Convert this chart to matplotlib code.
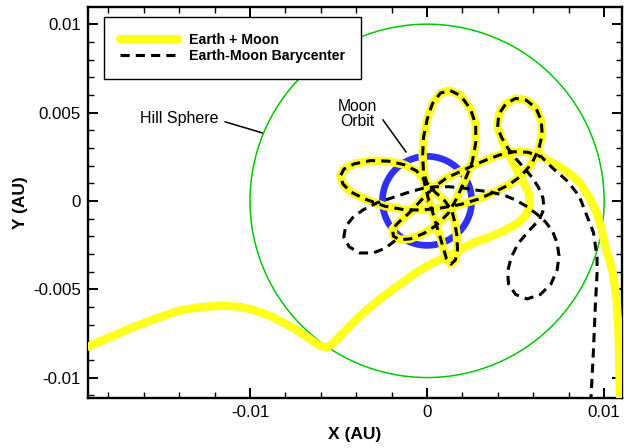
import matplotlib.pyplot as plt
from matplotlib.patches import Circle
from matplotlib.ticker import MultipleLocator

plt.rcParams["font.family"] = ["Liberation Sans", "DejaVu Sans"]
plt.rcParams["axes.unicode_minus"] = False

# Trajectory points are stored in milli-AU.
MAU = 1e-3

HILL_RADIUS = 0.010
MOON_ORBIT_RADIUS = 0.00252

# Earth + Moon track before it joins the shared loops
inbound_x = [-19.15, -18.0, -16.6, -15.2, -13.95, -12.7, -11.5, -10.6, -9.8, -8.9,
             -8.1, -7.4, -6.8, -6.15, -5.65, -5.3, -4.7, -4.18, -3.4, -2.5,
             -1.7, -0.95, -0.2, 0.35, 1.15, 1.9, 2.6, 3.4, 4.1, 4.7,
             5.15, 5.55, 5.82, 5.75, 5.38, 4.97, 4.58, 4.25]
inbound_y = [-8.25, -7.75, -7.15, -6.62, -6.2, -6.0, -5.93, -6.0, -6.17, -6.5,
             -6.9, -7.3, -7.7, -8.15, -8.3, -8.05, -7.45, -6.9, -6.17, -5.43,
             -4.85, -4.3, -3.8, -3.5, -3.15, -2.75, -2.38, -2.1, -1.8, -1.5,
             -1.25, -0.85, -0.32, 0.43, 1.19, 1.94, 2.7, 3.4]

# loops common to both solutions
loops_x = [3.98, 4.05, 4.45, 5.0, 5.6, 6.15, 6.45, 6.5, 6.3, 5.9, 5.3, 4.6,
           3.8, 2.9, 1.9, 0.8, -0.3, -1.3, -2.4, -3.5, -4.3, -4.75,
           -4.9, -4.7, -4.1, -3.2, -2.2, -1.3, -0.6, -0.2, -0.1,
           0.05, 0.3, 0.6, 0.9, 1.1, 1.35, 1.6, 1.72, 1.68, 1.55, 1.4,
           1.0, 0.45, 0.0, -0.2, -0.25, -0.2, 0.0, 0.3, 0.75, 1.3, 1.9, 2.45,
           2.75, 2.75, 2.55, 2.15, 1.65, 1.2,
           0.5, -0.2, -0.95, -1.55, -1.9, -1.95, -1.6, -1.05, -0.55, -0.05,
           0.5, 1.1, 1.75,
           2.6, 3.3, 4.1, 4.9, 5.7]
loops_y = [4.15, 4.9, 5.5, 5.8, 5.7, 5.25, 4.55, 3.75, 2.9, 2.1, 1.4, 0.9,
           0.5, 0.1, -0.2, -0.4, -0.52, -0.5, -0.3, 0.1, 0.5, 0.95,
           1.4, 1.8, 2.1, 2.28, 2.25, 2.05, 1.7, 1.25, 0.8,
           0.2, -0.6, -1.6, -2.6, -3.3, -3.58, -3.35, -2.75, -1.95, -1.15, -0.55,
           0.0, 0.5, 1.0, 1.6, 2.6, 3.6, 4.6, 5.5, 6.1, 6.25, 5.95, 5.2,
           4.3, 3.3, 2.2, 1.2, 0.1, -0.7,
           -1.4, -1.85, -2.15, -2.2, -2.0, -1.6, -1.2, -0.72, -0.2, 0.35,
           0.85, 1.3, 1.6,
           2.0, 2.3, 2.6, 2.78, 2.75]

# Earth + Moon departure
exit_x = [6.45, 7.5, 8.1, 8.65, 9.15, 9.6, 9.85, 10.05, 10.3, 10.5, 10.7, 10.8, 10.85, 10.9]
exit_y = [2.5, 1.92, 1.5, 1.0, 0.2, -0.7, -1.6, -2.5, -3.4, -4.1, -5.5, -7.2, -9.0, -11.3]

# barycenter track before the shared loops
bary_lead_x = [-1.8, -2.4, -3.05, -3.8, -4.4, -4.7, -4.6, -4.2, -3.6, -2.8,
               -1.9, -1.0, -0.2, 0.5, 1.2, 1.9, 2.7, 3.6, 4.4, 5.0,
               5.6, 6.2, 6.7, 7.1, 7.35, 7.45, 7.35, 7.0, 6.4, 5.65,
               5.0, 4.6, 4.55, 4.75, 5.15, 5.75, 6.35, 6.6, 6.55, 6.3,
               5.95, 5.5, 5.0, 4.55, 4.2]
bary_lead_y = [-2.25, -2.7, -2.95, -2.95, -2.6, -2.05, -1.45, -0.95, -0.5, -0.1,
               0.2, 0.5, 0.72, 0.8, 0.8, 0.75, 0.62, 0.5, 0.3, 0.05,
               -0.3, -0.75, -1.2, -1.75, -2.4, -3.1, -3.9, -4.7, -5.3, -5.55,
               -5.3, -4.7, -4.0, -3.2, -2.4, -1.7, -1.05, -0.45, 0.15, 0.75,
               1.3, 1.85, 2.4, 3.0, 3.6]

# barycenter departure
bary_exit_x = [6.45, 7.1, 7.95, 8.6, 9.05, 9.4, 9.6, 9.6, 9.5, 9.4, 9.27, 9.25]
bary_exit_y = [2.5, 1.85, 1.1, 0.25, -0.9, -1.8, -3.2, -4.1, -6.0, -8.4, -10.9, -11.3]

earth_moon_x = [v * MAU for v in inbound_x + loops_x + exit_x]
earth_moon_y = [v * MAU for v in inbound_y + loops_y + exit_y]
bary_x = [v * MAU for v in bary_lead_x + loops_x + bary_exit_x]
bary_y = [v * MAU for v in bary_lead_y + loops_y + bary_exit_y]

fig = plt.figure(figsize=(6.24, 4.48), dpi=100)
ax = fig.add_axes([0.141, 0.1123, 0.8561, 0.8728])

ax.add_patch(Circle((0, 0), HILL_RADIUS, fill=False, ec="#00c800", lw=1.1, zorder=1))
ax.add_patch(Circle((0, 0), MOON_ORBIT_RADIUS, fill=False, ec="#3030f0", lw=4.8, zorder=2))

ax.plot(earth_moon_x, earth_moon_y, color="#ffff1e", lw=6.0, solid_capstyle="round",
        solid_joinstyle="round", zorder=3, label="Earth + Moon")
ax.plot(bary_x, bary_y, color="black", lw=2.2, ls=(0, (3.0, 2.0)), zorder=4,
        label="Earth-Moon Barycenter")
ax.plot([0], [0], "o", color="red", ms=1.6, mec="none", zorder=5)

# labels with leader lines
ax.text(-14.0 * MAU, 4.64 * MAU, "Hill Sphere", fontsize=11.5, ha="center", va="center")
ax.plot([-11.4 * MAU, -9.32 * MAU], [4.47 * MAU, 3.85 * MAU], color="black", lw=1.1)
ax.text(-3.95 * MAU, 4.92 * MAU, "Moon\nOrbit", fontsize=11.3, ha="center", va="center",
        linespacing=1.0)
ax.plot([-2.49 * MAU, -1.19 * MAU], [4.58 * MAU, 2.77 * MAU], color="black", lw=1.1)

ax.set_xlim(-0.01915, 0.01102)
ax.set_ylim(-0.01114, 0.01099)

ax.set_xticks([-0.01, 0, 0.01], labels=["-0.01", "0", "0.01"])
ax.set_yticks([-0.01, -0.005, 0, 0.005, 0.01],
              labels=["-0.01", "-0.005", "0", "0.005", "0.01"])
ax.xaxis.set_minor_locator(MultipleLocator(0.002))
ax.yaxis.set_minor_locator(MultipleLocator(0.001))
ax.tick_params(which="both", direction="in", top=True, right=True, labelsize=12.2)
ax.tick_params(which="major", length=7, width=1.4, pad=5)
ax.tick_params(which="minor", length=4, width=1.0)
for spine in ax.spines.values():
    spine.set_linewidth(1.7)

ax.set_xlabel("X (AU)", fontsize=12.5, fontweight="bold", labelpad=5)
ax.set_ylabel("Y (AU)", fontsize=12.5, fontweight="bold", labelpad=4)

leg = ax.legend(loc="upper left", bbox_to_anchor=(0.03, 0.974), borderaxespad=0,
                fancybox=False, framealpha=1, edgecolor="black", handlelength=4.1,
                handletextpad=0.75, borderpad=1.15, labelspacing=0.1,
                prop={"size": 10.2, "weight": "bold"})
leg.get_frame().set_linewidth(1.0)

fig.savefig("out.png", dpi=100)
